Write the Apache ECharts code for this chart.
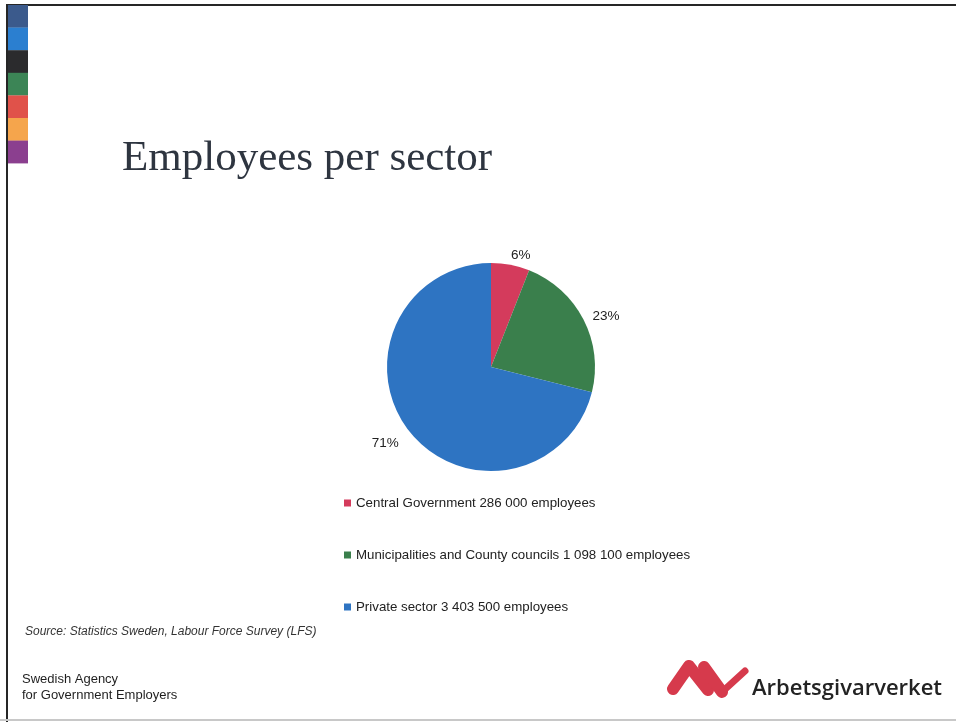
<!DOCTYPE html>
<html>
<head>
<meta charset="utf-8">
<title>Employees per sector</title>
<script src="https://cdn.jsdelivr.net/npm/echarts@6/dist/echarts.min.js"></script>
<style>
  html, body { margin: 0; padding: 0; background: #ffffff; }
  #chart { width: 956px; height: 722px; }
</style>
</head>
<body>
<div id="chart"></div>
<script>
// Employees by sector (Statistics Sweden, Labour Force Survey)
const sectors = ['Central Government', 'Municipalities and County councils', 'Private sector'];
const employees = [286000, 1098100, 3403500];
const sectorColors = ['#d43b5c', '#3a7f4c', '#2e74c2'];
// small nudges for the percentage labels around the pie
const labelNudges = [[-6, -2], [-3, 0], [1, 7]];

// Side stripe colours of the slide template
const stripeColors = ['#3b5a8c', '#2b7fd0', '#2b2b2d', '#3c8556', '#e0524a', '#f5a54c', '#8b3f8f'];

function groupThousands(n) {
  return String(n).replace(/\B(?=(\d{3})+(?!\d))/g, ' ');
}

const chart = echarts.init(document.getElementById('chart'), null, { renderer: 'canvas' });

const stripe = stripeColors.map((c, i) => ({
  type: 'rect',
  shape: { x: 8, y: 5 + i * 22.6, width: 20, height: 22.8 },
  style: { fill: c }
}));

const logoRed = '#d63a4c';
const logo = [
  {
    type: 'polyline',
    shape: { points: [[673, 689], [689, 666], [708, 690]] },
    style: { stroke: logoRed, lineWidth: 12, fill: null, lineCap: 'round', lineJoin: 'round' }
  },
  {
    type: 'polyline',
    shape: { points: [[704, 667], [722, 692]] },
    style: { stroke: logoRed, lineWidth: 12, fill: null, lineCap: 'round', lineJoin: 'round' }
  },
  {
    type: 'polyline',
    shape: { points: [[722, 692], [745, 671]] },
    style: { stroke: logoRed, lineWidth: 7, fill: null, lineCap: 'round', lineJoin: 'round' }
  },
  {
    type: 'text',
    left: 752, top: 678,
    style: { text: 'Arbetsgivarverket', fontFamily: '"Open Sans", sans-serif', fontWeight: 600, fontSize: 22, fill: '#232323' }
  }
];

chart.setOption({
  backgroundColor: '#ffffff',
  animation: false,
  title: {
    text: 'Employees per sector',
    left: 117,
    top: 132,
    textStyle: {
      fontFamily: '"Liberation Serif", "DejaVu Serif", serif',
      fontSize: 43,
      fontWeight: 'normal',
      color: '#2e3540'
    }
  },
  legend: {
    orient: 'vertical',
    left: 339,
    top: 491,
    icon: 'rect',
    itemWidth: 7,
    itemHeight: 7,
    itemGap: 38,
    itemTextGap: 4,
    selectedMode: false,
    data: sectors,
    formatter: name => name + ' ' + groupThousands(employees[sectors.indexOf(name)]) + ' employees',
    textStyle: {
      fontFamily: '"Liberation Sans", Arial, sans-serif',
      fontSize: 13.3,
      lineHeight: 14,
      color: '#222222'
    }
  },
  series: [{
    type: 'pie',
    center: [491, 367],
    radius: 104,
    startAngle: 90,
    clockwise: true,
    silent: true,
    data: sectors.map((s, i) => ({
      name: s,
      value: employees[i],
      itemStyle: { color: sectorColors[i] },
      label: { offset: labelNudges[i] }
    })),
    label: {
      show: true,
      position: 'outside',
      formatter: p => Math.round(p.percent) + '%',
      fontFamily: '"Liberation Sans", Arial, sans-serif',
      fontSize: 13.5,
      color: '#222222'
    },
    labelLine: { show: false, length: 8, length2: 0 }
  }],
  graphic: [
    // slide frame
    { type: 'line', shape: { x1: 6, y1: 5, x2: 956, y2: 5 }, style: { stroke: '#262626', lineWidth: 2 } },
    { type: 'line', shape: { x1: 7, y1: 4, x2: 7, y2: 722 }, style: { stroke: '#262626', lineWidth: 2 } },
    { type: 'line', shape: { x1: 0, y1: 720, x2: 956, y2: 720 }, style: { stroke: '#c8c8c8', lineWidth: 2 } },
    ...stripe,
    {
      type: 'text', left: 25, top: 626,
      style: {
        text: 'Source: Statistics Sweden, Labour Force Survey (LFS)',
        font: 'italic 12px "Liberation Sans", Arial, sans-serif',
        fill: '#333333'
      }
    },
    {
      type: 'text', left: 22, top: 671,
      style: {
        text: 'Swedish Agency\nfor Government Employers',
        fontFamily: '"Liberation Sans", Arial, sans-serif',
        fontSize: 13,
        lineHeight: 16,
        fill: '#1e1e1e'
      }
    },
    ...logo
  ]
});
</script>
</body>
</html>
